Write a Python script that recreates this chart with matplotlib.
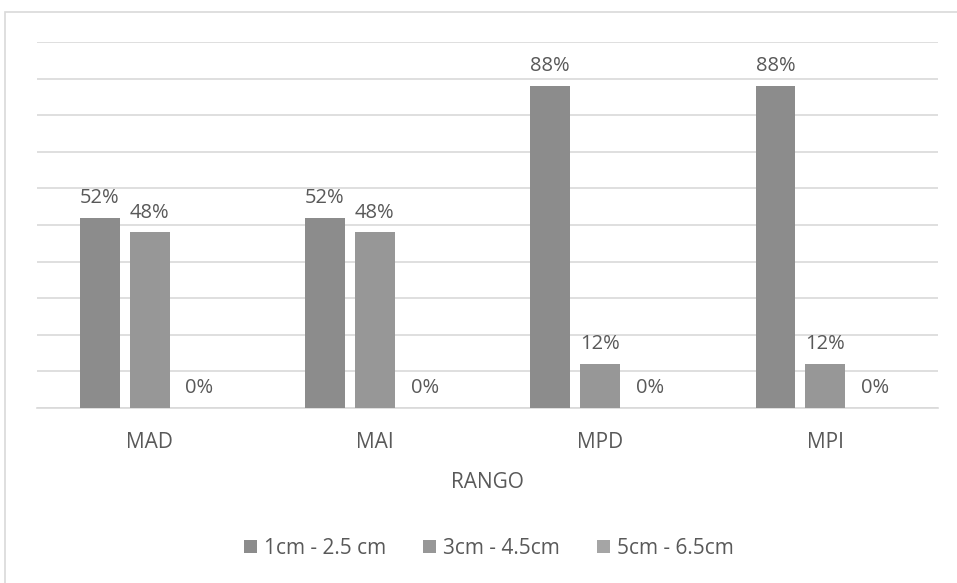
import matplotlib
matplotlib.use("Agg")
from matplotlib import pyplot as plt
from matplotlib.patches import Rectangle
import numpy as np

# datos del grafico
categories = ['MAD', 'MAI', 'MPD', 'MPI']
series_names = ['1cm - 2.5 cm', '3cm - 4.5cm', '5cm - 6.5cm']
s1 = [0.52, 0.52, 0.88, 0.88]
s2 = [0.48, 0.48, 0.12, 0.12]
s3 = [0.0, 0.0, 0.0, 0.0]
colors = ['#8c8c8c', '#979797', '#a5a5a5']
text_color = '#595959'
grid_color = '#d9d9d9'

plt.rcParams['font.family'] = ['Open Sans', 'DejaVu Sans']

fig = plt.figure(figsize=(9.57, 5.83), dpi=100)
ax = fig.add_axes([37 / 957, 1 - 408 / 583, (938 - 37) / 957, (408 - 42) / 583])

# marco exterior del grafico
fig.patches.append(Rectangle((5 / 957, -0.05), 1.0, 1.05 - 12 / 583,
                             transform=fig.transFigure, fill=False,
                             edgecolor=grid_color, linewidth=1.2))

x = np.arange(len(categories))
width = 0.177
offset = 0.2215
series = [s1, s2, s3]
for k, vals in enumerate(series):
    pos = x + (k - 1) * offset
    bars = ax.bar(pos, vals, width, color=colors[k], label=series_names[k], zorder=3)
    for b, v in zip(bars, vals):
        ax.annotate('{:.0f}%'.format(v * 100), (b.get_x() + b.get_width() / 2, v),
                    xytext=(0, 7), textcoords='offset points',
                    ha='center', va='bottom', fontsize=14.5, color=text_color)

ax.set_xlim(-0.5, len(categories) - 0.5)
ax.set_ylim(0, 1.0)
ax.set_yticks(np.arange(0, 1.01, 0.1))
ax.set_yticklabels([])
ax.yaxis.grid(True, color=grid_color, linewidth=1.2, zorder=0)
ax.set_xticks(x)
ax.set_xticklabels(categories, fontsize=15, color=text_color)
ax.tick_params(axis='both', length=0, pad=17)
for s in ['top', 'right', 'left']:
    ax.spines[s].set_visible(False)
ax.spines['bottom'].set_color(grid_color)
ax.spines['bottom'].set_linewidth(1.2)

ax.set_xlabel('RANGO', fontsize=15, color=text_color, labelpad=14)

leg = fig.legend(loc='center', bbox_to_anchor=(489 / 957, 1 - 548 / 583), ncol=3,
                 frameon=False, fontsize=15, handlelength=0.6, handleheight=0.6,
                 handletextpad=0.35, columnspacing=1.8)
for t in leg.get_texts():
    t.set_color(text_color)

fig.savefig('out.png', dpi=100)
